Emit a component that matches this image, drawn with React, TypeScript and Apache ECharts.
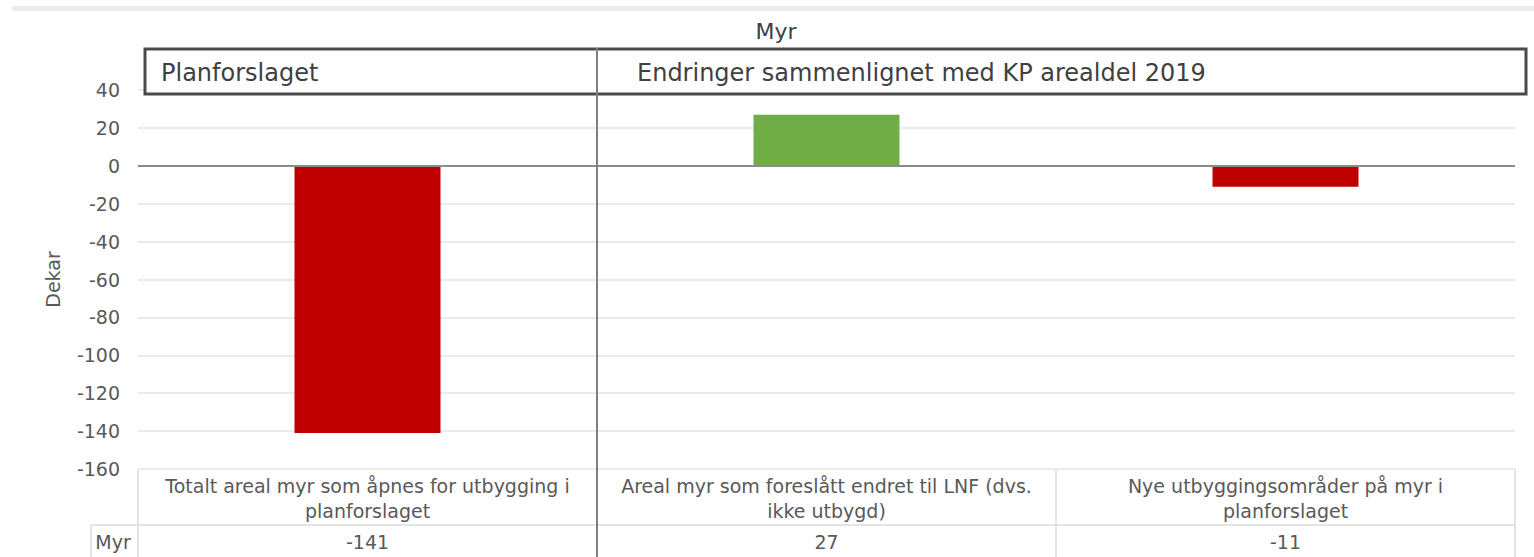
import React, { useEffect, useRef } from "react";
import * as echarts from "echarts";

// ---- data ----
const chartTitle = "Myr";
const seriesName = "Myr";
const yAxisName = "Dekar";
const categories = [
  "Totalt areal myr som åpnes for utbygging i\nplanforslaget",
  "Areal myr som foreslått endret til LNF (dvs.\nikke utbygd)",
  "Nye utbyggingsområder på myr i\nplanforslaget",
];
const values = [-141, 27, -11];
const sectionLabels = ["Planforslaget", "Endringer sammenlignet med KP arealdel 2019"];
const yMin = -160;
const yMax = 40;
const yStep = 20;

// ---- layout ----
const W = 1534;
const H = 557;
const PL = 138;
const PR = 1515;
const PT = 90;
const PB = 469;
const ROW = 525;
const FONT = "DejaVu Sans";
const TXT = "#595959";
const TABLE = "#e4e4e4";

export default function App() {
  const ref = useRef<HTMLDivElement>(null);
  useEffect(() => {
    document.body.style.margin = "0";
    const chart = echarts.init(ref.current!, null, { renderer: "svg" });
    const colW = (PR - PL) / categories.length;
    const tableLines: any[] = [];
    const hline = (x1: number, x2: number, y: number) =>
      tableLines.push({
        type: "line",
        z: 50,
        shape: { x1, y1: y, x2, y2: y },
        style: { stroke: TABLE, lineWidth: 2 },
      });
    const vline = (x: number, y1: number, y2: number, stroke = TABLE, lw = 2, z = 50) =>
      tableLines.push({
        type: "line",
        z,
        shape: { x1: x, y1, x2: x, y2 },
        style: { stroke, lineWidth: lw },
      });
    hline(91, PR, ROW);
    vline(PL, PB, H);
    vline(91, ROW, H);
    vline(PR, PB, H);
    for (let i = 2; i < categories.length; i++) vline(PL + colW * i, PB, H);

    chart.setOption({
      animation: false,
      textStyle: { fontFamily: FONT },
      grid: { left: PL, right: W - PR, top: PT, bottom: H - PB },
      xAxis: [
        {
          type: "category",
          data: categories,
          axisLine: { show: false },
          axisTick: { show: false },
          splitLine: { show: false },
          axisLabel: {
            interval: 0,
            margin: 4,
            fontSize: 19,
            lineHeight: 25,
            color: TXT,
            fontFamily: FONT,
            align: "center",
          },
        },
        {
          type: "category",
          position: "bottom",
          data: values.map((v) => String(v)),
          axisLine: { show: false },
          axisTick: { show: false },
          splitLine: { show: false },
          axisLabel: {
            interval: 0,
            margin: 61,
            fontSize: 19,
            lineHeight: 24,
            color: TXT,
            fontFamily: FONT,
          },
        },
      ],
      yAxis: {
        type: "value",
        min: yMin,
        max: yMax,
        interval: yStep,
        name: yAxisName,
        nameLocation: "middle",
        nameRotate: 90,
        nameGap: 76,
        nameTextStyle: { fontSize: 19, color: TXT, fontFamily: FONT },
        axisLine: { show: false },
        axisTick: { show: false },
        axisLabel: { fontSize: 19, color: TXT, margin: 18, fontFamily: FONT },
        splitLine: { show: true, lineStyle: { color: "#ebebeb", width: 2 } },
      },
      series: [
        {
          name: seriesName,
          type: "bar",
          data: values,
          barWidth: 146,
          itemStyle: {
            color: (p: any) => (p.value >= 0 ? "#70AD47" : "#C00000"),
          },
          markLine: {
            silent: true,
            symbol: ["none", "none"],
            label: { show: false },
            lineStyle: { color: "#8c8c8c", width: 2, type: "solid" },
            data: [{ yAxis: 0 }],
          },
        },
      ],
      graphic: [
        {
          type: "rect",
          z: 40,
          shape: { x: 12, y: 6, width: W - 12, height: 5 },
          style: { fill: "#ececec" },
        },
        {
          type: "text",
          z: 40,
          x: 776,
          y: 31,
          style: {
            text: chartTitle,
            fontSize: 22,
            fontFamily: FONT,
            fill: "#404040",
            align: "center",
            verticalAlign: "middle",
          },
        },
        ...tableLines,
        {
          type: "rect",
          z: 100,
          shape: { x: 145, y: 49, width: 1381, height: 45 },
          style: { fill: "#ffffff", stroke: "#4a4a4a", lineWidth: 3 },
        },
        {
          type: "text",
          z: 105,
          x: 161,
          y: 73,
          style: {
            text: sectionLabels[0],
            fontSize: 24,
            fontFamily: FONT,
            fill: "#404040",
            align: "left",
            verticalAlign: "middle",
          },
        },
        {
          type: "text",
          z: 105,
          x: 637,
          y: 73,
          style: {
            text: sectionLabels[1],
            fontSize: 24,
            fontFamily: FONT,
            fill: "#404040",
            align: "left",
            verticalAlign: "middle",
          },
        },
        {
          type: "line",
          z: 110,
          shape: { x1: PL + colW, y1: 48, x2: PL + colW, y2: H },
          style: { stroke: "#7f7f7f", lineWidth: 2 },
        },
        {
          type: "text",
          z: 60,
          x: 113,
          y: 542,
          style: {
            text: seriesName,
            fontSize: 19,
            fontFamily: FONT,
            fill: TXT,
            align: "center",
            verticalAlign: "middle",
          },
        },
      ],
    });
    return () => chart.dispose();
  }, []);
  return <div ref={ref} style={{ width: W, height: H }} />;
}
